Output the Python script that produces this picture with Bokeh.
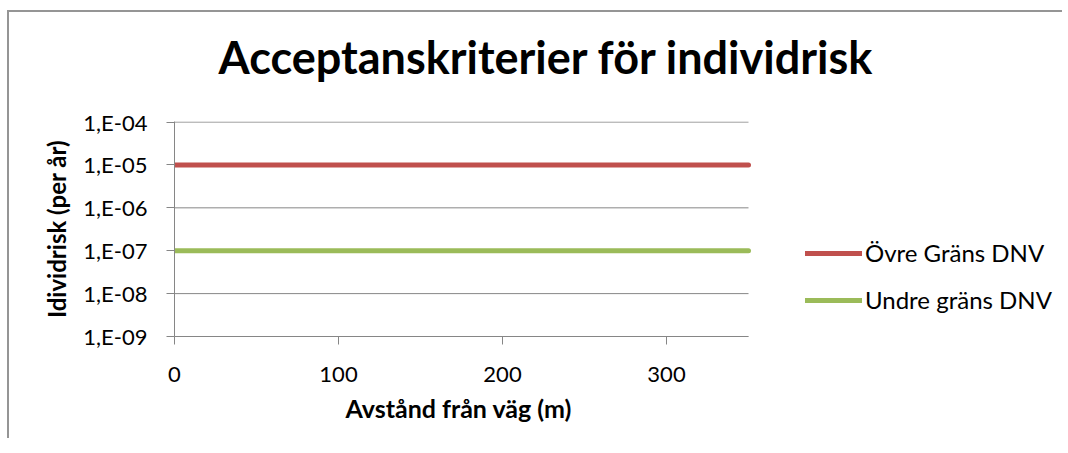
from bokeh.plotting import figure
from bokeh.models import (CustomJSTickFormatter, FixedTicker, Legend, LegendItem,
                          Title, Range1d)
from bokeh.embed import file_html
from bokeh.resources import INLINE

# ---- data ----
title_text = "Acceptanskriterier för individrisk"
x_label = "Avstånd från väg (m)"
y_label = "Idividrisk (per år)"
x_ticks = [0, 100, 200, 300]
y_ticks = [1e-9, 1e-8, 1e-7, 1e-6, 1e-5, 1e-4]
y_tick_labels = ["1,E-09", "1,E-08", "1,E-07", "1,E-06", "1,E-05", "1,E-04"]
series_names = ["Övre Gräns DNV", "Undre gräns DNV"]
distance = [0, 350]
upper_limit = [1e-5, 1e-5]
lower_limit = [1e-7, 1e-7]
colors = ["#C0504D", "#9BBB59"]

FONT = "Lato"
GRID = "#868686"

# plot area spans distance 0..350; the frame extends further right to host the legend
x_end = distance[-1] * 890 / 574

p = figure(width=1055, height=428, output_backend="svg", toolbar_location=None,
           y_axis_type="log",
           x_range=Range1d(0, x_end), y_range=Range1d(1e-9, 1.03e-4),
           min_border_left=165, min_border_right=0,
           min_border_top=109, min_border_bottom=104,
           styles={"margin-left": "7px", "margin-top": "10px",
                   "border-left": "2px solid #959595",
                   "border-top": "2px solid #959595"})

p.outline_line_color = None
p.background_fill_color = "white"
p.border_fill_color = "white"

# spacer between plot area and title, then the title itself (stacked outward)
p.add_layout(Title(text=" ", text_font=FONT, text_font_size="10px",
                   text_color="white", standoff=24), "above")
p.add_layout(Title(text=title_text, align="left", text_font=FONT,
                   text_font_size="45px", text_font_style="bold",
                   text_color="black", offset=44, standoff=0), "above")

# horizontal gridlines limited to the plot area
n = len(y_ticks)
p.segment(x0=[distance[0]] * n, x1=[distance[-1]] * n, y0=y_ticks, y1=y_ticks,
          line_color=GRID, line_width=1, level="underlay")

# series lines
r1 = p.line(distance, upper_limit, line_color=colors[0], line_width=5, line_cap="round")
r2 = p.line(distance, lower_limit, line_color=colors[1], line_width=5, line_cap="round")

# axes
xa = p.xaxis[0]
xa.ticker = FixedTicker(ticks=x_ticks)
xa.bounds = (distance[0], distance[-1])
ya = p.yaxis[0]
ya.ticker = FixedTicker(ticks=y_ticks)
ya.formatter = CustomJSTickFormatter(args=dict(tick_vals=y_ticks, tick_text=y_tick_labels), code="""
let best = 0, bd = Infinity;
for (let i = 0; i < tick_vals.length; i++) {
  const d = Math.abs(Math.log10(tick) - Math.log10(tick_vals[i]));
  if (d < bd) { bd = d; best = i; }
}
return tick_text[best];
""")
ya.axis_label = y_label

for ax in (xa, ya):
    ax.axis_line_color = GRID
    ax.axis_line_width = 1
    ax.major_tick_line_color = GRID
    ax.major_tick_in = 0
    ax.major_tick_out = 8
    ax.minor_tick_line_color = None
    ax.major_label_text_font = FONT
    ax.major_label_text_font_size = "22px"
    ax.major_label_text_color = "black"
    ax.axis_label_text_font = FONT
    ax.axis_label_text_font_size = "24px"
    ax.axis_label_text_font_style = "bold"
    ax.axis_label_text_color = "black"

xa.major_label_standoff = 22
ya.major_label_standoff = 19
ya.axis_label_standoff = 9

# x-axis title, centred under the 0..350 plot area
p.add_layout(Title(text=x_label, align="left", text_font=FONT,
                   text_font_size="25px", text_font_style="bold",
                   text_color="black", offset=171, standoff=13), "below")

p.xgrid.visible = False
p.ygrid.visible = False

# legend
legend = Legend(items=[LegendItem(label=series_names[0], renderers=[r1]),
                       LegendItem(label=series_names[1], renderers=[r2])],
                location=(631, 22), orientation="vertical",
                glyph_width=57, glyph_height=20, label_height=20,
                spacing=18, padding=0, margin=0, label_standoff=3,
                border_line_color=None, background_fill_alpha=0,
                label_text_font=FONT, label_text_font_size="24px",
                label_text_color="black")
p.add_layout(legend)

open("out.html", "w").write(file_html(p, INLINE))
